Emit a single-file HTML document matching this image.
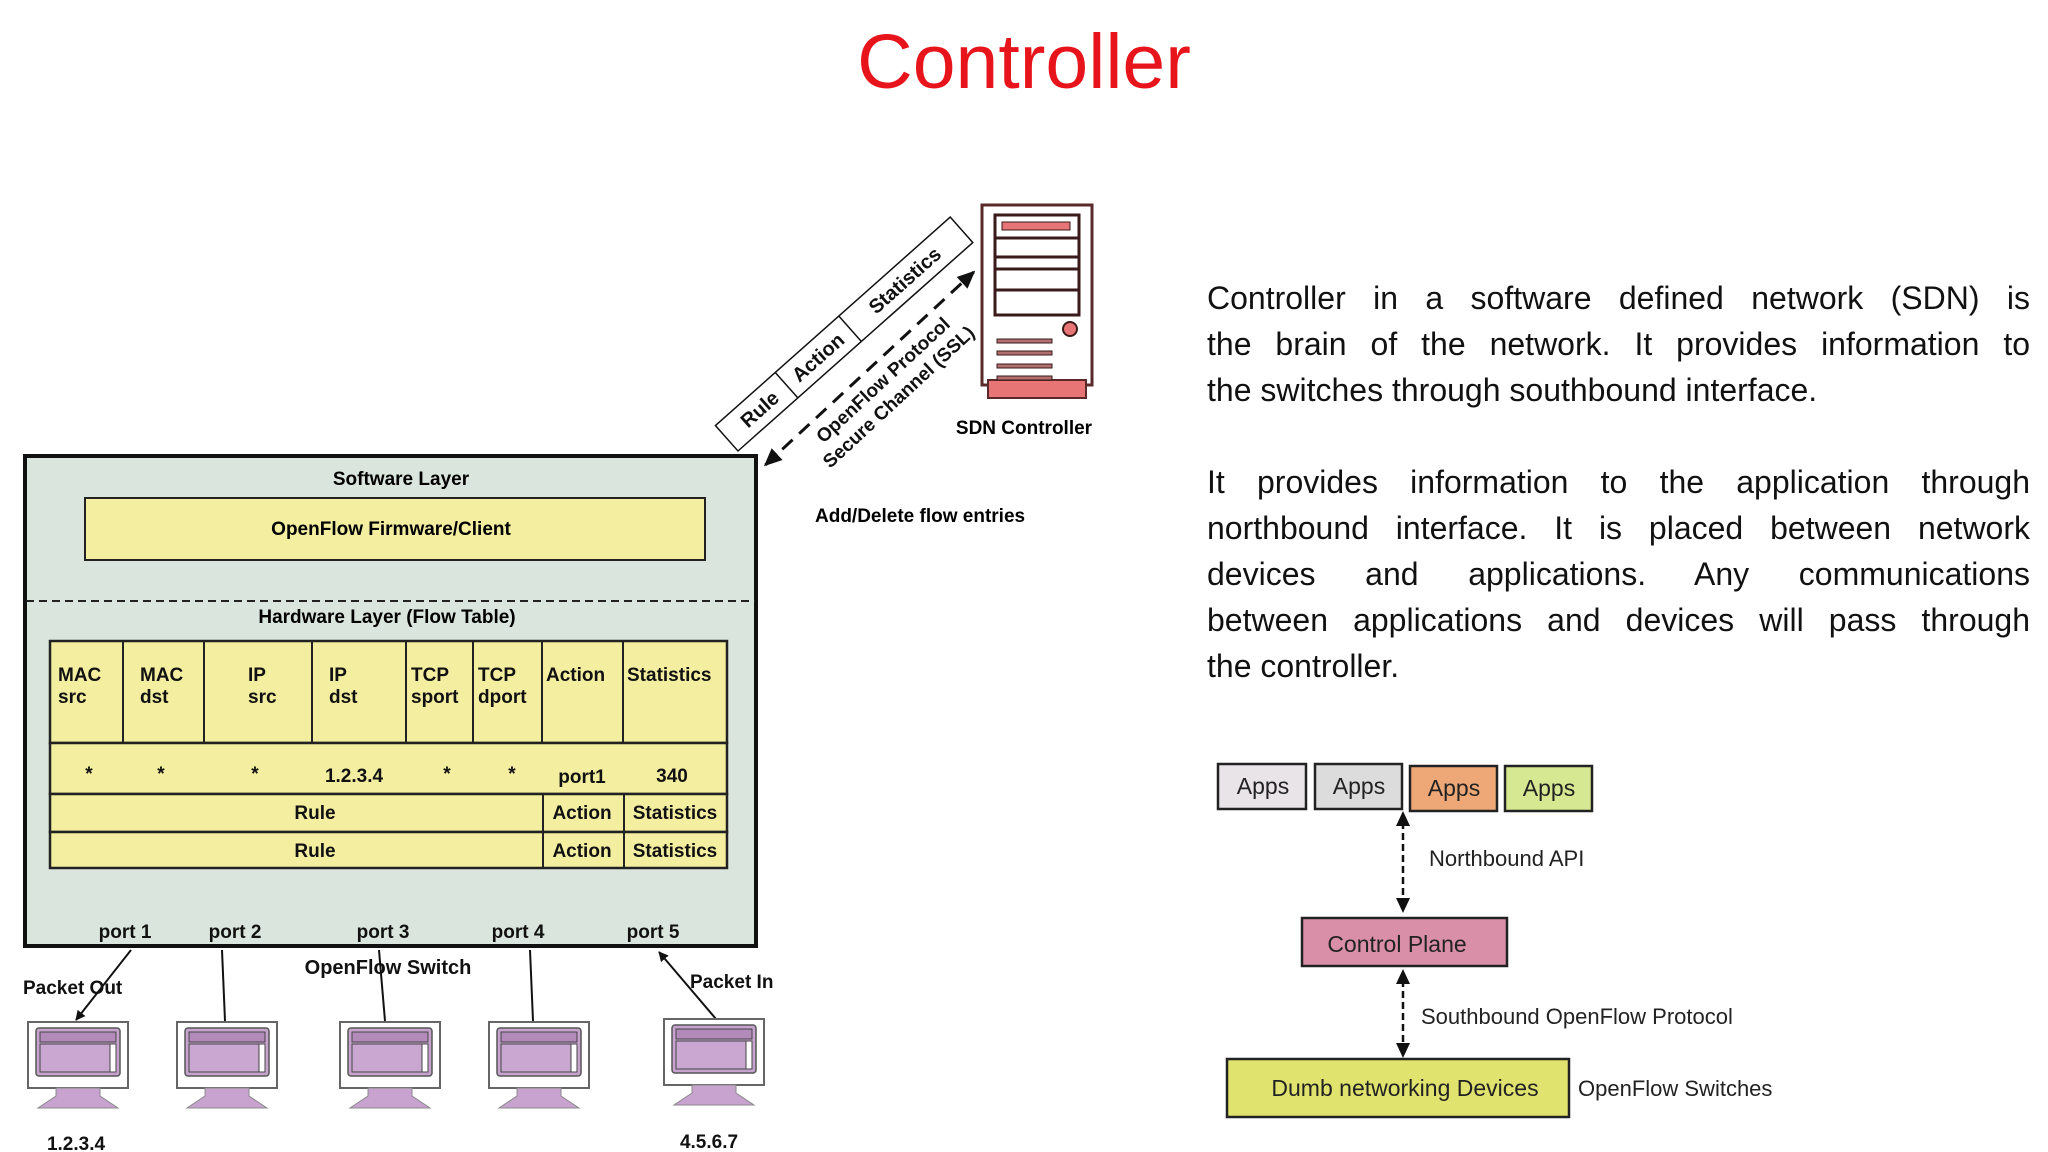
<!DOCTYPE html>
<html><head><meta charset="utf-8"><style>
html,body{margin:0;padding:0;background:#fff;}
body{width:2048px;height:1152px;position:relative;overflow:hidden;font-family:"Liberation Sans",sans-serif;}
.p{position:absolute;left:1207px;width:823px;font-size:32px;line-height:46px;color:#111;font-family:"Liberation Sans",sans-serif;}
.p div{text-align:justify;text-align-last:justify;white-space:nowrap;}
.p div.l{text-align-last:left;}
</style></head><body>
<svg width="2048" height="1152" style="position:absolute;left:0;top:0" font-family="Liberation Sans, sans-serif">
<defs>
<marker id="ah" markerWidth="10" markerHeight="10" refX="9" refY="5" orient="auto" markerUnits="userSpaceOnUse"><path d="M0,0 L10,5 L0,10 z" fill="#111"/></marker>
<marker id="ab" markerWidth="18" markerHeight="16" refX="16" refY="8" orient="auto" markerUnits="userSpaceOnUse"><path d="M0,0 L18,8 L0,16 z" fill="#111"/></marker>
<marker id="ab2" markerWidth="18" markerHeight="16" refX="2" refY="8" orient="auto" markerUnits="userSpaceOnUse"><path d="M18,0 L0,8 L18,16 z" fill="#111"/></marker>
<g id="pc">
<rect x="0" y="0" width="100" height="66" fill="#fff" stroke="#666" stroke-width="2"/>
<rect x="8" y="6" width="84" height="48" rx="3" fill="#c8a3cf" stroke="#555" stroke-width="1.5"/>
<rect x="12" y="10" width="76" height="10" fill="#b28bbb" stroke="#444" stroke-width="1"/>
<rect x="12" y="22" width="70" height="28" fill="#c9a7d1" stroke="#444" stroke-width="1"/>
<rect x="82" y="22" width="6" height="28" fill="#fff" stroke="#444" stroke-width="1"/>
<path d="M28,66 L72,66 L72,74 L90,86 L10,86 L28,74 z" fill="#c8a3cf" stroke="#888" stroke-width="1"/>
</g>
</defs>
<text x="1024" y="88" text-anchor="middle" font-size="77" fill="#e8141b">Controller</text>

<rect x="25" y="456" width="731" height="490" fill="#dae6dd" stroke="#111" stroke-width="4"/>
<text x="401" y="485" text-anchor="middle" font-size="19" font-weight="bold">Software Layer</text>
<rect x="85" y="498" width="620" height="62" fill="#f3eea0" stroke="#222" stroke-width="2"/>
<text x="391" y="535" text-anchor="middle" font-size="19" font-weight="bold">OpenFlow Firmware/Client</text>
<line x1="26" y1="601" x2="755" y2="601" stroke="#222" stroke-width="2" stroke-dasharray="8,5"/>
<text x="387" y="623" text-anchor="middle" font-size="19" font-weight="bold">Hardware Layer (Flow Table)</text>
<g stroke="#222" stroke-width="2.5" fill="#f3eea0">
<rect x="50" y="641" width="677" height="102"/>
<rect x="50" y="743" width="677" height="51"/>
<rect x="50" y="794" width="677" height="38"/>
<rect x="50" y="832" width="677" height="36"/>
</g>
<g stroke="#222" stroke-width="2">
<line x1="123" y1="641" x2="123" y2="743"/><line x1="204" y1="641" x2="204" y2="743"/>
<line x1="312" y1="641" x2="312" y2="743"/><line x1="406" y1="641" x2="406" y2="743"/>
<line x1="473" y1="641" x2="473" y2="743"/><line x1="542" y1="641" x2="542" y2="743"/>
<line x1="623" y1="641" x2="623" y2="743"/>
<line x1="543" y1="794" x2="543" y2="868"/><line x1="624" y1="794" x2="624" y2="868"/>
</g>
<g font-size="19" font-weight="bold" fill="#111">
<text x="58" y="681">MAC</text><text x="58" y="703">src</text>
<text x="140" y="681">MAC</text><text x="140" y="703">dst</text>
<text x="248" y="681">IP</text><text x="248" y="703">src</text>
<text x="329" y="681">IP</text><text x="329" y="703">dst</text>
<text x="411" y="681">TCP</text><text x="411" y="703">sport</text>
<text x="478" y="681">TCP</text><text x="478" y="703">dport</text>
<text x="546" y="681">Action</text>
<text x="627" y="681">Statistics</text>
<g text-anchor="middle">
<text x="89" y="780">*</text><text x="161" y="780">*</text><text x="255" y="780">*</text>
<text x="354" y="782">1.2.3.4</text><text x="447" y="780">*</text><text x="512" y="780">*</text>
<text x="582" y="783">port1</text><text x="672" y="782">340</text>
<text x="315" y="819">Rule</text><text x="582" y="819">Action</text><text x="675" y="819">Statistics</text>
<text x="315" y="857">Rule</text><text x="582" y="857">Action</text><text x="675" y="857">Statistics</text>
<text x="125" y="938">port 1</text><text x="235" y="938">port 2</text><text x="383" y="938">port 3</text>
<text x="518" y="938">port 4</text><text x="653" y="938">port 5</text>
</g>
<text x="388" y="974" text-anchor="middle" font-size="20">OpenFlow Switch</text>
<text x="23" y="994">Packet Out</text>
<text x="690" y="988">Packet In</text>
<text x="76" y="1150" text-anchor="middle">1.2.3.4</text>
<text x="709" y="1148" text-anchor="middle">4.5.6.7</text>
</g>
<g stroke="#111" stroke-width="2">
<line x1="131" y1="950" x2="76" y2="1020" marker-end="url(#ah)"/>
<line x1="222" y1="950" x2="225" y2="1021"/>
<line x1="379" y1="950" x2="385" y2="1021"/>
<line x1="530" y1="950" x2="533" y2="1021"/>
<line x1="716" y1="1019" x2="659" y2="952" marker-end="url(#ah)"/>
</g>
<use href="#pc" x="28" y="1022"/>
<use href="#pc" x="177" y="1022"/>
<use href="#pc" x="340" y="1022"/>
<use href="#pc" x="489" y="1022"/>
<use href="#pc" x="664" y="1019"/>

<g transform="translate(738,451) rotate(-41.6)">
<rect x="0" y="-34" width="314" height="34" fill="#fff" stroke="#111" stroke-width="1.5"/>
<line x1="80" y1="-34" x2="80" y2="0" stroke="#111" stroke-width="1.5"/>
<line x1="165" y1="-34" x2="165" y2="0" stroke="#111" stroke-width="1.5"/>
<g font-size="20" font-weight="bold" text-anchor="middle" fill="#111">
<text x="44" y="-10">Rule</text><text x="122" y="-10">Action</text><text x="238" y="-10">Statistics</text>
</g>
</g>
<g transform="translate(761,469) rotate(-42.8)">
<line x1="6" y1="0" x2="290" y2="0" stroke="#111" stroke-width="3" stroke-dasharray="14,9" marker-end="url(#ab)" marker-start="url(#ab2)"/>
<g font-size="19" font-weight="bold" text-anchor="middle" fill="#111">
<text x="150" y="24">OpenFlow Protocol</text><text x="150" y="47">Secure Channel (SSL)</text>
</g>
</g>
<text x="815" y="522" font-size="19" font-weight="bold">Add/Delete flow entries</text>

<rect x="982" y="205" width="110" height="180" fill="#fff" stroke="#5a2a2a" stroke-width="3"/>
<rect x="988" y="380" width="98" height="18" fill="#e87575" stroke="#5a2a2a" stroke-width="2"/>
<rect x="995" y="215" width="84" height="100" fill="#fff" stroke="#3a1a1a" stroke-width="3"/>
<g stroke="#3a1a1a" stroke-width="3"><line x1="995" y1="238" x2="1079" y2="238"/><line x1="995" y1="257" x2="1079" y2="257"/><line x1="995" y1="269" x2="1079" y2="269"/><line x1="995" y1="290" x2="1079" y2="290"/></g>
<rect x="1002" y="222" width="68" height="8" fill="#e87575" stroke="#3a1a1a" stroke-width="1"/>
<circle cx="1070" cy="329" r="7" fill="#e87575" stroke="#3a1a1a" stroke-width="2"/>
<g fill="#b07070" stroke="#3a1a1a" stroke-width="1"><rect x="997" y="339" width="55" height="4"/><rect x="997" y="351" width="55" height="4"/><rect x="997" y="364" width="55" height="4"/><rect x="997" y="376" width="55" height="4"/></g>
<text x="1024" y="434" text-anchor="middle" font-size="19" font-weight="bold">SDN Controller</text>

<g stroke="#222" stroke-width="2.5">
<rect x="1218" y="764" width="88" height="45" fill="#e8e4e8"/>
<rect x="1315" y="764" width="87" height="45" fill="#dcdcdc"/>
<rect x="1410" y="766" width="87" height="45" fill="#eea877"/>
<rect x="1505" y="766" width="87" height="45" fill="#d6e891"/>
<rect x="1302" y="918" width="205" height="48" fill="#d98fa8"/>
<rect x="1227" y="1059" width="342" height="58" fill="#e0e36e"/>
</g>
<g font-size="23" fill="#222" text-anchor="middle">
<text x="1263" y="794">Apps</text><text x="1359" y="794">Apps</text><text x="1454" y="796">Apps</text><text x="1549" y="796">Apps</text>
<text x="1397" y="952">Control Plane</text>
<text x="1405" y="1096">Dumb networking Devices</text>
</g>
<g font-size="22" fill="#222">
<text x="1429" y="866">Northbound API</text>
<text x="1421" y="1024">Southbound OpenFlow Protocol</text>
<text x="1578" y="1096">OpenFlow Switches</text>
</g>
<g stroke="#111" stroke-width="2.5" stroke-dasharray="7,4">
<line x1="1403" y1="822" x2="1403" y2="900"/>
<line x1="1403" y1="980" x2="1403" y2="1046"/>
</g>
<g fill="#111">
<path d="M1403,811 L1396,826 L1410,826 z"/><path d="M1403,913 L1396,898 L1410,898 z"/>
<path d="M1403,969 L1396,984 L1410,984 z"/><path d="M1403,1058 L1396,1043 L1410,1043 z"/>
</g>
</svg>
<div class="p" style="top:275px;">
<div>Controller in a software defined network (SDN) is</div>
<div>the brain of the network. It provides information to</div>
<div class="l">the switches through southbound interface.</div>
</div>
<div class="p" style="top:459px;">
<div>It provides information to the application through</div>
<div>northbound interface. It is placed between network</div>
<div>devices and applications. Any communications</div>
<div>between applications and devices will pass through</div>
<div class="l">the controller.</div>
</div>
</body></html>
